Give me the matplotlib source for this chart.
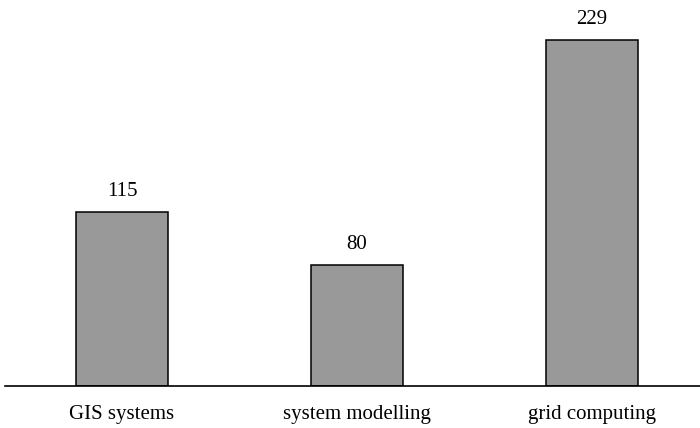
import matplotlib
matplotlib.use("Agg")
import matplotlib.pyplot as plt

# data
categories = ["GIS systems", "system modelling", "grid computing"]
counts = [115, 80, 229]

plt.rcParams['font.family'] = ['Liberation Serif', 'DejaVu Serif']

fig = plt.figure(figsize=(7, 4.28), dpi=100)
ax = fig.add_axes([5 / 700, 42 / 428, 695 / 700, 386 / 428])

x = range(len(categories))
bars = ax.bar(x, counts, width=0.39, color="#999999", edgecolor="black", linewidth=1.1)

for b, v in zip(bars, counts):
    ax.annotate(str(v), (b.get_x() + b.get_width() / 2, v), xytext=(0, 8),
                textcoords="offset points", ha="center", va="bottom", fontsize=15)

ax.set_xlim(-0.498, 2.46)
ax.set_ylim(0, 255.5)
ax.set_xticks(list(x))
ax.set_xticklabels(categories, fontsize=15)
ax.tick_params(axis="x", length=0, pad=14)
ax.set_yticks([])

for side in ["top", "right", "left"]:
    ax.spines[side].set_visible(False)
ax.spines["bottom"].set_linewidth(1.2)

fig.savefig("out.png", dpi=100)
